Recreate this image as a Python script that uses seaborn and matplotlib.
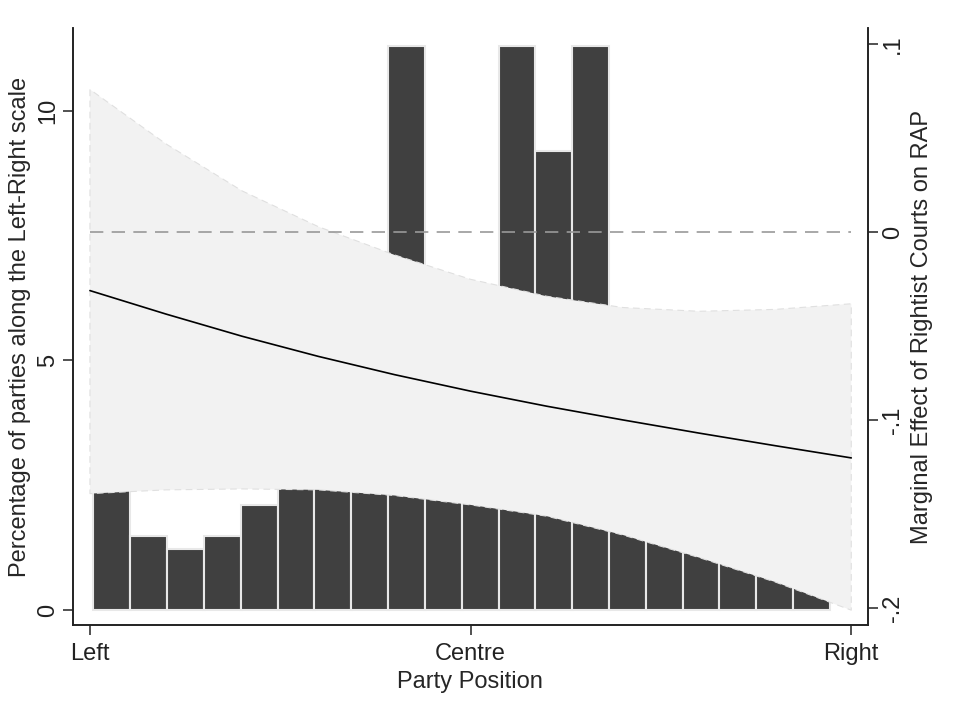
import numpy as np
import pandas as pd
import matplotlib
matplotlib.use("Agg")
import matplotlib.pyplot as plt
import seaborn as sns

# histogram of party positions (percent of parties per bin), 20 bins
bar_pct = [2.9, 1.49, 1.22, 1.49, 2.10, 3.2, 3.6, 4.1, 11.3, 5.8,
           5.4, 11.3, 9.19, 11.3, 4.6, 4.2, 3.7, 3.0, 2.4, 1.6]
bin_lo, bin_hi = 0.046, 9.72

# marginal effect and 95% CI along the left-right scale
pos = [0, 1, 2, 3, 4, 5, 6, 7, 8, 9, 10]
me = [-0.031, -0.0435, -0.0553, -0.066, -0.0757, -0.0845, -0.0925, -0.0998, -0.1068, -0.1135, -0.120]
ci_hi = [0.076, 0.047, 0.022, 0.003, -0.012, -0.025, -0.034, -0.040, -0.042, -0.041, -0.038]
ci_lo = [-0.139, -0.137, -0.1365, -0.137, -0.140, -0.145, -0.151, -0.161, -0.173, -0.186, -0.201]

xticks = [0, 5, 10]
xticklabels = ["Left", "Centre", "Right"]
lticks = [0, 5, 10]
rticks = [-0.2, -0.1, 0, 0.1]
rticklabels = ["-.2", "-.1", "0", ".1"]

sns.set_theme(style="ticks")
plt.rcParams["font.family"] = ["Liberation Sans", "DejaVu Sans"]
fs = 17

fig = plt.figure(figsize=(9.65, 7.25), dpi=100)
ax = fig.add_axes([0.0753, 0.1379, 0.8242, 0.8235])

nbins = len(bar_pct)
step = (bin_hi - bin_lo) / nbins
hist_df = pd.DataFrame({"x": [bin_lo + step * (i + 0.5) for i in range(nbins)],
                        "pct": bar_pct})
sns.histplot(data=hist_df, x="x", weights="pct", bins=nbins, binrange=(bin_lo, bin_hi),
             ax=ax, color="#404040", edgecolor="#e8e8e8", linewidth=1.5, alpha=1)

ax.set_xlim(-0.227, 10.22)
ax.set_ylim(-0.30, 11.66)
ax.set_xticks(xticks)
ax.set_xticklabels(xticklabels, fontsize=fs)
ax.set_yticks(lticks)
ax.set_yticklabels([str(t) for t in lticks], fontsize=fs, rotation=90, va="center")
ax.set_xlabel("Party Position", fontsize=fs, labelpad=4)
ax.set_ylabel("Percentage of parties along the Left-Right scale", fontsize=fs, labelpad=4)

ax2 = ax.twinx()
ax2.fill_between(pos, ci_lo, ci_hi, facecolor="#f2f2f2", edgecolor="#e0e0e0",
                 linestyle=(0, (6, 4)), linewidth=0.8, zorder=1)
ax2.plot([pos[0], pos[-1]], [0, 0], color="#999999", lw=1.2,
         dashes=(8, 5), zorder=2)
sns.lineplot(x=pos, y=me, ax=ax2, color="black", lw=1.2, zorder=3)
ax2.set_ylim(-0.2089, 0.1087)
ax2.set_yticks(rticks)
ax2.set_yticklabels(rticklabels, fontsize=fs, rotation=90, va="center")
ax2.set_ylabel("Marginal Effect of Rightist Courts on RAP", fontsize=fs, labelpad=5)

for a in (ax, ax2):
    a.spines["top"].set_visible(False)
    for s in a.spines.values():
        s.set_linewidth(1.2)
        s.set_color("#222222")
    a.tick_params(direction="out", length=7, width=1.1, colors="#222222", pad=3)
ax.tick_params(axis="x", pad=6)

fig.savefig("out.png", dpi=100, facecolor="white")
